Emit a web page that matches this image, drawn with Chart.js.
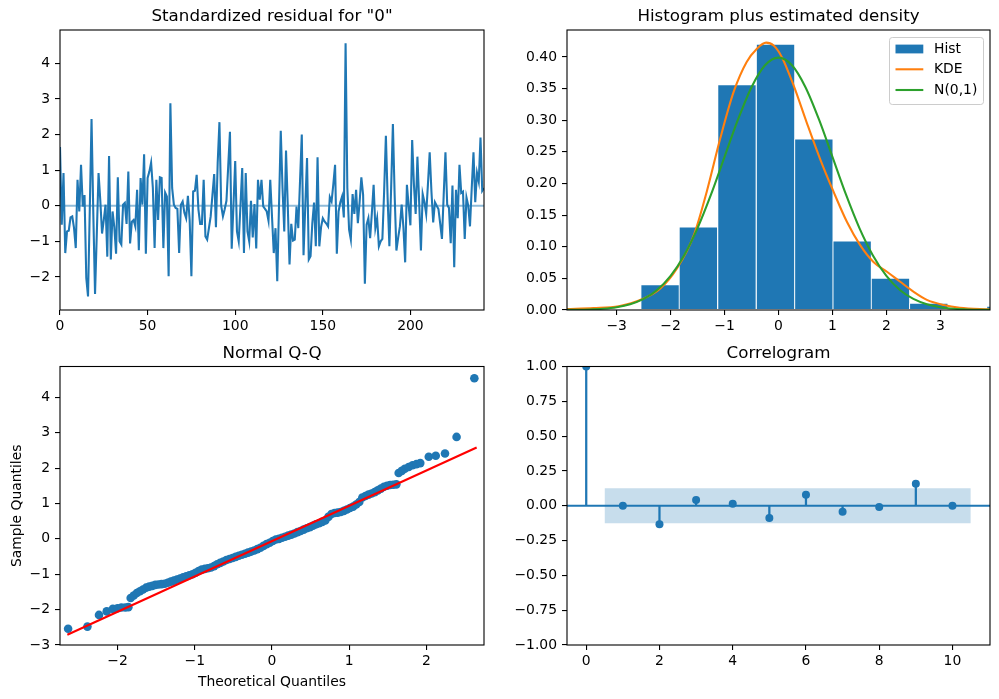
<!DOCTYPE html>
<html><head><meta charset="utf-8">
<script src="https://cdn.jsdelivr.net/npm/chart.js@4.4.1/dist/chart.umd.min.js"></script>
<style>
html,body{margin:0;padding:0;background:#fff;}
#wrap{position:relative;width:999px;height:699px;overflow:hidden;background:#fff;}
#wrap canvas{position:absolute;left:0;top:0;}
</style></head><body>
<div id="wrap">
<canvas id="c1" width="999" height="699"></canvas>
<canvas id="c2" width="999" height="699"></canvas>
<canvas id="c3" width="999" height="699"></canvas>
<canvas id="c4" width="999" height="699"></canvas>
</div>
<script>
// ---------------- DATA ----------------
const residTitle = 'Standardized residual for "0"';
const residuals = [
 1.65,-0.53,0.92,-1.33,-0.72,-0.70,-0.33,-0.30,-0.62,-1.19,
 0.73,-0.16,1.15,-0.02,0.30,-2.03,-2.55,-0.10,2.44,-0.20,
 -2.48,-0.80,0.92,0.15,-0.78,-0.40,0.03,-1.43,1.40,-1.51,
 -0.16,-0.60,-1.35,0.80,-1.00,-1.09,0.03,0.08,-0.51,0.96,
 -1.06,-0.45,-0.40,-0.58,0.45,-1.25,0.78,0.03,1.45,-1.35,
 0.78,0.96,1.21,0.50,-1.19,0.73,-0.40,0.80,0.78,-1.19,
 0.37,0.26,-1.98,2.88,0.50,0.03,-0.06,-0.09,-1.33,0.03,
 0.12,-0.20,-0.35,0.28,-0.40,-1.98,0.40,0.42,0.87,-0.10,
 -0.51,-0.51,0.73,-0.86,-0.95,-0.63,-0.30,0.30,0.89,-0.60,
 1.20,2.35,0.00,-0.30,-0.10,0.14,1.10,2.08,-1.21,0.00,
 1.26,-0.72,-1.00,0.00,1.06,-1.33,0.92,-0.72,-1.00,0.14,
 -0.89,0.05,-1.20,0.73,0.17,0.73,-0.02,-0.09,-0.16,-0.42,
 0.73,-0.30,-1.33,-0.63,-2.12,0.00,2.11,0.50,-0.72,1.55,
 0.00,-1.65,-0.51,-0.98,-0.95,-0.02,-0.63,0.70,2.00,-1.39,
 0.00,1.34,-1.51,-1.42,-0.50,0.09,-1.14,1.36,-1.14,-0.60,
 -0.35,-0.44,-0.50,-0.58,0.24,0.12,0.60,1.15,-1.35,-0.16,
 0.10,0.26,-0.33,4.57,0.50,-0.67,-0.95,0.33,-0.23,0.45,
 -0.49,0.10,0.80,0.31,-2.19,-0.53,-0.35,-0.91,-0.20,0.59,
 -0.63,-0.35,-1.14,-1.00,-0.93,0.40,1.97,0.20,-1.14,0.50,
 2.30,0.30,-1.26,-0.90,-0.58,0.03,-0.60,-1.59,0.59,0.00,
 -0.55,1.85,0.60,-0.23,1.38,0.10,-1.26,0.33,0.10,-0.23,
 0.60,1.50,0.40,-0.47,0.10,0.00,-0.09,-0.50,-0.93,0.30,
 1.50,0.03,-0.06,-1.05,0.57,-1.73,0.45,-0.35,1.15,0.36,
 0.40,-0.93,0.23,0.00,-0.58,0.50,1.50,0.10,0.92,0.68,
 1.92,0.42,0.50
];
const residXTicks = [0,50,100,150,200];
const residYTicks = [-2,-1,0,1,2,3,4];

const histTitle = 'Histogram plus estimated density';
const histLabels = ['Hist','KDE','N(0,1)'];
const histEdges = [-2.55,-1.84,-1.13,-0.41,0.30,1.01,1.72,2.43,3.14,3.86,4.57];
const histDensity = [0.040,0.131,0.356,0.420,0.270,0.109,0.050,0.0105,0,0.0058];
const kdeX = [-3.92,-3.43,-2.96,-2.53,-2.19,-1.88,-1.57,-1.33,-1.08,-0.83,-0.59,-0.40,-0.23,-0.09,0.06,0.28,0.52,0.77,1.02,1.27,1.51,1.76,2.01,2.25,2.50,2.75,3.06,3.36,3.92];
const kdeY = [0.0016,0.003,0.006,0.017,0.034,0.066,0.118,0.187,0.271,0.345,0.392,0.413,0.4226,0.418,0.400,0.355,0.297,0.239,0.187,0.139,0.103,0.076,0.0605,0.045,0.029,0.016,0.008,0.0037,0.001];
const normX = [-3.92,-3.5,-3.25,-3,-2.75,-2.5,-2.25,-2,-1.75,-1.5,-1.25,-1,-0.75,-0.5,-0.25,0,0.25,0.5,0.75,1,1.25,1.5,1.75,2,2.25,2.5,2.75,3,3.25,3.5,3.92];
const normY = [0.0002,0.0009,0.0020,0.0044,0.0091,0.0175,0.0317,0.0540,0.0863,0.1295,0.1826,0.2420,0.3011,0.3521,0.3867,0.3989,0.3867,0.3521,0.3011,0.2420,0.1826,0.1295,0.0863,0.0540,0.0317,0.0175,0.0091,0.0044,0.0020,0.0009,0.0002];
const histXTicks = [-3,-2,-1,0,1,2,3];
const histYTicks = [0,0.05,0.10,0.15,0.20,0.25,0.30,0.35,0.40];

const qqTitle = 'Normal Q-Q';
const qqXLabel = 'Theoretical Quantiles';
const qqYLabel = 'Sample Quantiles';
const qqTheoretical = [-2.64,-2.39,-2.24,-2.14,-2.06,-2.00,-1.95,-1.90,-1.86,
 -1.83,-1.79,-1.75,-1.71,-1.67,-1.63,-1.59,-1.55,-1.51,-1.47,-1.43,-1.39,-1.35,-1.31,-1.27,-1.23,-1.19,-1.15,-1.11,-1.07,-1.03,
 -0.99,-0.95,-0.91,-0.87,-0.83,-0.79,-0.75,-0.71,-0.67,-0.63,-0.59,-0.55,-0.51,-0.47,-0.43,-0.39,-0.35,-0.31,-0.27,-0.23,
 -0.19,-0.15,-0.11,-0.07,-0.03,0.01,0.05,0.09,0.13,0.17,0.21,0.25,0.29,0.33,0.37,0.41,0.45,0.49,0.53,0.57,
 0.61,0.65,0.69,0.73,0.77,0.81,0.85,0.89,0.93,0.97,1.01,1.05,1.09,1.13,1.17,1.21,1.25,1.29,1.33,1.37,
 1.41,1.45,1.49,1.53,1.57,1.61,1.64,1.68,1.72,1.77,1.82,1.87,1.92,2.03,2.12,2.24,2.39,2.62];
const qqSample = [-2.54,-2.48,-2.15,-2.05,-1.98,-1.96,-1.94,-1.94,-1.93,
 -1.67,-1.60,-1.53,-1.48,-1.43,-1.38,-1.35,-1.33,-1.30,-1.29,-1.28,-1.27,-1.24,-1.21,-1.18,-1.15,-1.12,-1.09,-1.06,-1.03,-1.00,
 -0.96,-0.91,-0.87,-0.85,-0.83,-0.81,-0.77,-0.72,-0.68,-0.64,-0.60,-0.57,-0.54,-0.51,-0.48,-0.45,-0.42,-0.39,-0.36,-0.33,
 -0.29,-0.25,-0.20,-0.15,-0.11,-0.06,-0.02,0.00,0.03,0.06,0.09,0.12,0.15,0.19,0.22,0.26,0.30,0.33,0.37,0.41,
 0.44,0.48,0.52,0.62,0.70,0.73,0.74,0.76,0.79,0.83,0.87,0.91,0.97,1.04,1.17,1.21,1.25,1.28,1.32,1.37,
 1.42,1.47,1.50,1.52,1.53,1.54,1.86,1.92,1.98,2.03,2.08,2.11,2.14,2.32,2.35,2.41,2.88,4.54];
const qqLineX = [-2.65,2.65];
const qqLineY = [-2.71,2.58];
const qqXTicks = [-2,-1,0,1,2];
const qqYTicks = [-3,-2,-1,0,1,2,3,4];

const acfTitle = 'Correlogram';
const acfLags = [0,1,2,3,4,5,6,7,8,9,10];
const acfValues = [1.0,0.0,-0.132,0.041,0.014,-0.088,0.079,-0.043,-0.0095,0.158,0.0];
const confLagX = [0.5,10.5];
const confUpper = [0.126,0.126];
const confLower = [-0.126,-0.126];
const acfXTicks = [0,2,4,6,8,10];
const acfYTicks = [-1,-0.75,-0.5,-0.25,0,0.25,0.5,0.75,1];

// ---------------- STYLE / HELPERS ----------------
const FONT = "'DejaVu Sans', 'Liberation Sans', sans-serif";
Chart.defaults.font.family = FONT;
Chart.defaults.color = '#000';
const TICK = 13.9, TITLE = 16.7;
const C0 = '#1f77b4';
const W = 999, H = 699;

const fmtInt = v => String(Math.round(v)).replace('-', '\u2212');
const fmt2 = v => (Math.abs(v) < 1e-9 ? 0 : v).toFixed(2).replace('-', '\u2212');

function axis(pos, min, max, ticks, fmt, size, title, titlePad) {
  return {
    type: 'linear', position: pos, min: min, max: max, offset: false,
    afterBuildTicks: s => { s.ticks = ticks.map(v => ({value: v})); },
    afterFit: s => { if (pos === 'bottom') s.height = size; else s.width = size; },
    grid: {drawOnChartArea: false, drawTicks: true, tickLength: 5, color: '#000', lineWidth: 1.1, offset: false},
    border: {display: false},
    ticks: {font: {size: TICK}, color: '#000', padding: pos === 'bottom' ? 3 : 5, maxRotation: 0, autoSkip: false,
            callback: v => fmt(v)},
    title: title ? {display: true, text: title, color: '#000', font: {size: TICK}, padding: titlePad} : {display: false}
  };
}

const frame = {
  id: 'frame',
  afterDatasetsDraw(chart) {
    const {ctx, chartArea: a} = chart;
    ctx.save();
    ctx.strokeStyle = '#000';
    ctx.lineWidth = 1.1;
    ctx.strokeRect(a.left, a.top, a.right - a.left, a.bottom - a.top);
    ctx.restore();
  }
};

function baseOptions(area, yw, xh, title, scales) {
  return {
    responsive: false, animation: false, events: [],
    layout: {padding: {left: area.l - yw, top: area.t - 30, right: W - area.r, bottom: H - area.b - xh}},
    plugins: {
      legend: {display: false}, tooltip: {enabled: false},
      title: {display: true, text: title, fullSize: false, color: '#000',
              font: {size: TITLE, weight: 'normal'}, padding: {top: 7, bottom: 2.96}}
    },
    scales: scales
  };
}

// ---------------- 1: standardized residuals ----------------
const A1 = {l: 60, t: 30, r: 484, b: 310};
new Chart(document.getElementById('c1'), {
  type: 'line',
  data: {datasets: [
    {data: residuals.map((v, i) => ({x: i, y: v})), borderColor: C0, borderWidth: 2.08,
     pointRadius: 0, tension: 0, order: 2},
    {data: [{x: 0, y: 0}, {x: residuals.length - 1, y: 0}], borderColor: 'rgba(31,119,180,0.5)',
     borderWidth: 2.08, pointRadius: 0, order: 1}
  ]},
  options: baseOptions(A1, 60, 30, residTitle, {
    x: axis('bottom', 0, residuals.length - 1, residXTicks, fmtInt, 30),
    y: axis('left', -2.93, 4.94, residYTicks, fmtInt, 60)
  }),
  plugins: [frame]
});

// ---------------- 2: histogram ----------------
const A2 = {l: 567, t: 30, r: 990, b: 310};
const histLegend = {
  id: 'histLegend',
  afterDraw(chart) {
    const {ctx, chartArea: a} = chart;
    const w = 94, h = 67;
    const x0 = a.right - 6.5 - w, y0 = a.top + 7.5;
    ctx.save();
    ctx.beginPath();
    ctx.roundRect(x0, y0, w, h, 2.8);
    ctx.fillStyle = 'rgba(255,255,255,0.8)';
    ctx.fill();
    ctx.strokeStyle = '#cccccc';
    ctx.lineWidth = 1;
    ctx.stroke();
    const ds = chart.data.datasets;
    const rows = [11.5, 31.8, 52.5];
    ctx.font = TICK + 'px ' + FONT;
    ctx.textBaseline = 'middle';
    ctx.textAlign = 'left';
    ds.forEach((d, k) => {
      const cy = y0 + rows[k];
      if (d.type === 'line') {
        ctx.strokeStyle = d.borderColor; ctx.lineWidth = 2.08;
        ctx.beginPath(); ctx.moveTo(x0 + 6, cy); ctx.lineTo(x0 + 33.8, cy); ctx.stroke();
      } else {
        ctx.fillStyle = d.backgroundColor;
        ctx.fillRect(x0 + 6, cy - 4.4, 27.8, 8.8);
      }
      ctx.fillStyle = '#000';
      ctx.fillText(d.label, x0 + 44.5, cy + 0.5);
    });
    ctx.restore();
  }
};
new Chart(document.getElementById('c2'), {
  type: 'bar',
  data: {datasets: [
    {label: histLabels[0], type: 'bar',
     data: histDensity.map((h, k) => ({x: (histEdges[k] + histEdges[k + 1]) / 2, y: h})),
     backgroundColor: C0, borderColor: '#ffffff', borderWidth: 0.8, borderSkipped: false,
     barPercentage: 1, categoryPercentage: 1, order: 3},
    {label: histLabels[1], type: 'line', data: kdeX.map((x, k) => ({x: x, y: kdeY[k]})),
     borderColor: '#ff7f0e', borderWidth: 2.08, pointRadius: 0, cubicInterpolationMode: 'monotone', order: 2},
    {label: histLabels[2], type: 'line', data: normX.map((x, k) => ({x: x, y: normY[k]})),
     borderColor: '#2ca02c', borderWidth: 2.08, pointRadius: 0, cubicInterpolationMode: 'monotone', order: 1}
  ]},
  options: baseOptions(A2, 60, 30, histTitle, {
    x: axis('bottom', -3.92, 3.92, histXTicks, fmtInt, 30),
    y: axis('left', 0, 0.4425, histYTicks, fmt2, 60)
  }),
  plugins: [frame, histLegend]
});

// ---------------- 3: Normal Q-Q ----------------
const A3 = {l: 60, t: 366.5, r: 484, b: 645};
new Chart(document.getElementById('c3'), {
  type: 'scatter',
  data: {datasets: [
    {data: qqTheoretical.map((x, k) => ({x: x, y: qqSample[k]})), backgroundColor: C0,
     borderWidth: 0, pointRadius: 4.3, order: 2},
    {type: 'line', data: qqLineX.map((x, k) => ({x: x, y: qqLineY[k]})), borderColor: '#ff0000',
     borderWidth: 2.08, pointRadius: 0, showLine: true, order: 1}
  ]},
  options: baseOptions(A3, 60, 45.4, qqTitle, {
    x: axis('bottom', -2.745, 2.745, qqXTicks, fmtInt, 45.4, qqXLabel, {top: 0, bottom: 0}),
    y: axis('left', -3.0, 4.87, qqYTicks, fmtInt, 60, qqYLabel, {top: 8.7, bottom: 0})
  }),
  plugins: [frame]
});

// ---------------- 4: Correlogram ----------------
const A4 = {l: 567, t: 366.5, r: 990, b: 645};
new Chart(document.getElementById('c4'), {
  type: 'bar',
  data: {datasets: [
    {type: 'line', data: confLagX.map((x, k) => ({x: x, y: confUpper[k]})), borderWidth: 0,
     pointRadius: 0, fill: '+1', backgroundColor: 'rgba(31,119,180,0.25)', order: 5},
    {type: 'line', data: confLagX.map((x, k) => ({x: x, y: confLower[k]})), borderWidth: 0,
     pointRadius: 0, fill: false, order: 5},
    {type: 'line', data: [{x: -0.525, y: 0}, {x: 11.025, y: 0}], borderColor: C0, borderWidth: 2,
     pointRadius: 0, order: 4},
    {type: 'bar', data: acfLags.map((l, k) => ({x: l, y: [0, acfValues[k]]})), backgroundColor: C0,
     barThickness: 1.6, borderWidth: 0, order: 3},
    {type: 'scatter', data: acfLags.map((l, k) => ({x: l, y: acfValues[k]})), backgroundColor: C0,
     borderWidth: 0, pointRadius: 4, order: 2}
  ]},
  options: baseOptions(A4, 60, 30, acfTitle, {
    x: axis('bottom', -0.525, 11.025, acfXTicks, fmtInt, 30),
    y: axis('left', -1, 1, acfYTicks, fmt2, 60)
  }),
  plugins: [frame]
});
</script>
</body></html>
